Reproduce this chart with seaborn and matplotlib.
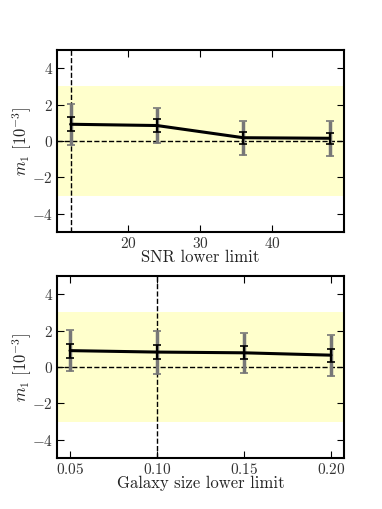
import matplotlib
matplotlib.use("Agg")
import matplotlib.pyplot as plt
import seaborn as sns
import numpy as np
import pandas as pd

snr_x = [12, 24, 36, 48]
snr_m = [0.92, 0.85, 0.18, 0.15]
snr_err_stat = [0.38, 0.35, 0.33, 0.30]
snr_err_tot = [1.12, 0.97, 0.93, 0.95]

size_x = [0.05, 0.10, 0.15, 0.20]
size_m = [0.90, 0.82, 0.78, 0.65]
size_err_stat = [0.38, 0.38, 0.36, 0.36]
size_err_tot = [1.14, 1.18, 1.10, 1.12]

snr_ref = 12
size_ref = 0.10

sns.set_style("ticks")
plt.rcParams['font.family'] = ['cmr10']
plt.rcParams['mathtext.fontset'] = 'cm'
plt.rcParams['axes.formatter.use_mathtext'] = True
plt.rcParams['axes.unicode_minus'] = True

fig = plt.figure(figsize=(3.82, 5.09), dpi=100)
ax1 = fig.add_axes([57/382, 1-232/509, 287/382, 182/509])
ax2 = fig.add_axes([57/382, 1-458/509, 287/382, 182/509])

def panel(ax, x, m, es, et, ref, xlim, xticks, xticklabels, xlabel):
    ax.axhspan(-3, 3, color='#ffffcc', zorder=0, lw=0)
    ax.axhline(0, color='black', ls='--', lw=1.0, zorder=1)
    ax.axvline(ref, color='black', ls='--', lw=1.0, zorder=1)
    ax.errorbar(x, m, yerr=et, fmt='none', ecolor='#777777', elinewidth=2.5,
                capsize=3, capthick=1.2, zorder=2)
    df = pd.DataFrame({'x': x, 'm': m})
    sns.lineplot(data=df, x='x', y='m', ax=ax, color='black', lw=2.2, zorder=3)
    ax.errorbar(x, m, yerr=es, fmt='none', ecolor='black', elinewidth=1.5,
                capsize=3, capthick=1.2, zorder=4)
    ax.set_xlim(*xlim)
    ax.set_ylim(-5, 5)
    ax.set_xticks(xticks)
    ax.set_xticklabels(xticklabels)
    ax.set_yticks([-4, -2, 0, 2, 4])
    ax.set_yticklabels(['$-4$', '$-2$', '$0$', '$2$', '$4$'])
    ax.set_xlabel(xlabel, fontsize=12, labelpad=-1, color='#222222')
    ax.set_ylabel(r'$m_1\ [10^{-3}]$', fontsize=12, labelpad=-2, color='#222222')
    ax.tick_params(direction='in', top=True, right=True, length=5, width=0.8,
                   labelsize=11, colors='black', labelcolor='#333333', pad=3)
    for s in ax.spines.values():
        s.set_linewidth(1.5)
        s.set_color('black')

panel(ax1, snr_x, snr_m, snr_err_stat, snr_err_tot, snr_ref, (10.1, 50),
      [20, 30, 40], ['$20$', '$30$', '$40$'], 'SNR lower limit')
panel(ax2, size_x, size_m, size_err_stat, size_err_tot, size_ref, (0.0425, 0.2075),
      [0.05, 0.10, 0.15, 0.20], ['$0.05$', '$0.10$', '$0.15$', '$0.20$'],
      'Galaxy size lower limit')

fig.savefig('out.png', dpi=100)
